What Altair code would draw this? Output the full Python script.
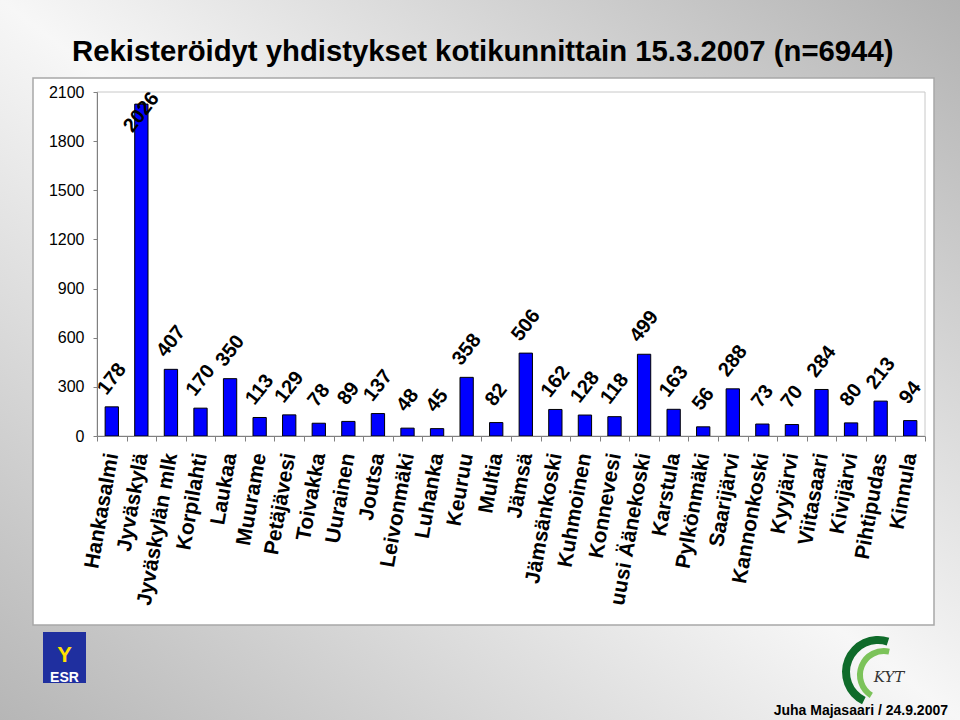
import altair as alt
import pandas as pd

municipalities = ["Hankasalmi", "Jyväskylä", "Jyväskylän mlk", "Korpilahti", "Laukaa",
                  "Muurame", "Petäjävesi", "Toivakka", "Uurainen", "Joutsa",
                  "Leivonmäki", "Luhanka", "Keuruu", "Multia", "Jämsä",
                  "Jämsänkoski", "Kuhmoinen", "Konnevesi", "uusi Äänekoski", "Karstula",
                  "Pylkönmäki", "Saarijärvi", "Kannonkoski", "Kyyjärvi", "Viitasaari",
                  "Kivijärvi", "Pihtipudas", "Kinnula"]
counts = [178, 2026, 407, 170, 350, 113, 129, 78, 89, 137, 48, 45, 358, 82, 506,
          162, 128, 118, 499, 163, 56, 288, 73, 70, 284, 80, 213, 94]
y_ticks = [0, 300, 600, 900, 1200, 1500, 1800, 2100]
title_text = "Rekisteröidyt yhdistykset kotikunnittain 15.3.2007 (n=6944)"
footer_text = "Juha Majasaari / 24.9.2007"

FONT = "Liberation Sans, Arial, Helvetica, sans-serif"
W, H = 828, 344
L, T = 97, 92

df = pd.DataFrame({"kunta": municipalities, "n": counts})
one = pd.DataFrame({"k": [0]})

x_axis = alt.Axis(title=None, labelAngle=280, labelAlign="right", labelBaseline="middle",
                  labelFont=FONT, labelFontSize=21, labelFontWeight="bold", labelColor="black",
                  labelPadding=12, tickSize=5, tickColor="#808080", domainColor="#808080",
                  tickBand="extent", labelOverlap=False, zindex=1)
y_axis = alt.Axis(title=None, values=y_ticks, format="d", grid=False, labelFont=FONT,
                  labelFontSize=16, labelFontWeight="normal", labelColor="black", labelPadding=9,
                  tickSize=4, tickColor="#808080", domainColor="#808080", zindex=1)
x_enc = alt.X("kunta:N", sort=None, scale=alt.Scale(paddingInner=0, paddingOuter=0), axis=x_axis)
y_scale = alt.Scale(domain=[0, 2100], nice=False)

bg_grad = alt.LinearGradient(gradient="linear", x1=0, y1=1, x2=1, y2=0,
                             stops=[alt.GradientStop(offset=0, color="#b6b6b6"),
                                    alt.GradientStop(offset=0.5, color="#f7f7f7"),
                                    alt.GradientStop(offset=1, color="#b2b2b2")])

bg = alt.Chart(one).mark_rect(fill=bg_grad).encode(
    x=alt.value(-L), x2=alt.value(960 - L), y=alt.value(-T), y2=alt.value(720 - T))

panel = alt.Chart(one).mark_rect(fill="white", stroke="#a8a8a8", strokeWidth=1.5).encode(
    x=alt.value(33 - L), x2=alt.value(934 - L), y=alt.value(78 - T), y2=alt.value(625 - T))

frame = alt.Chart(one).mark_rect(fill="transparent", stroke="#c8c8c8", strokeWidth=1).encode(
    x=alt.value(0), x2=alt.value(W), y=alt.value(0), y2=alt.value(H))

title = alt.Chart(one).mark_text(align="left", baseline="alphabetic", font=FONT, fontSize=29.3,
                                 fontWeight="bold", color="black").encode(
    x=alt.value(72 - L), y=alt.value(61 - T), text=alt.value(title_text))

bars = alt.Chart(df).mark_bar(color="#0000ff", stroke="black", strokeWidth=1,
                              width=alt.RelativeBandSize(0.45)).encode(
    x=x_enc, y=alt.Y("n:Q", scale=y_scale, axis=y_axis))

labels = alt.Chart(df).transform_calculate(ly="min(datum.n, 1807)").mark_text(
    angle=308, align="center", baseline="middle", dx=22, dy=-17,
    font=FONT, fontSize=20, fontWeight="bold", color="black").encode(
    x=x_enc, y=alt.Y("ly:Q", scale=y_scale, axis=y_axis), text="n:Q")

footer = alt.Chart(one).mark_text(align="right", baseline="alphabetic",
                                  font="Liberation Sans Narrow, Arial Narrow, Liberation Sans, sans-serif",
                                  fontSize=14, fontWeight="bold", color="black").encode(
    x=alt.value(948 - L), y=alt.value(715 - T), text=alt.value(footer_text))

esr_box = alt.Chart(one).mark_rect(fill="#1f2f9f").encode(
    x=alt.value(43 - L), x2=alt.value(86 - L), y=alt.value(632 - T), y2=alt.value(683 - T))
esr_fig = alt.Chart(one).mark_text(align="center", baseline="middle", font=FONT, fontSize=22,
                                   fontWeight="bold", color="#ffe000").encode(
    x=alt.value(64.5 - L), y=alt.value(655 - T), text=alt.value("Y"))
esr_txt = alt.Chart(one).mark_text(align="center", baseline="alphabetic", font=FONT, fontSize=14,
                                   fontWeight="bold", color="white").encode(
    x=alt.value(64.5 - L), y=alt.value(682 - T), text=alt.value("ESR"))

kyt_dark = alt.Chart(one).mark_arc(fill="#0f6b2a").encode(
    x=alt.value(878 - L), y=alt.value(672 - T), radius=alt.value(36), radius2=alt.value(28),
    theta=alt.value(3.6), theta2=alt.value(6.6))
kyt_light = alt.Chart(one).mark_arc(fill="#7cc35a").encode(
    x=alt.value(884 - L), y=alt.value(675 - T), radius=alt.value(27), radius2=alt.value(21),
    theta=alt.value(3.7), theta2=alt.value(6.5))
kyt_txt = alt.Chart(one).mark_text(align="center", baseline="alphabetic", font="DejaVu Serif",
                                   fontSize=15, fontStyle="italic", color="#333333").encode(
    x=alt.value(889 - L), y=alt.value(682 - T), text=alt.value("KYT"))

chart = alt.layer(bg, panel, frame, title, bars, labels, footer, esr_box, esr_fig, esr_txt,
                  kyt_dark, kyt_light, kyt_txt).properties(
    width=W, height=H,
    autosize=alt.AutoSizeParams(type="none"),
    padding={"left": L, "top": T, "right": 960 - L - W, "bottom": 720 - T - H},
).configure_view(strokeWidth=0).configure(background="#ffffff")

chart.save("out.html", embed_options={"renderer": "svg", "actions": False})
